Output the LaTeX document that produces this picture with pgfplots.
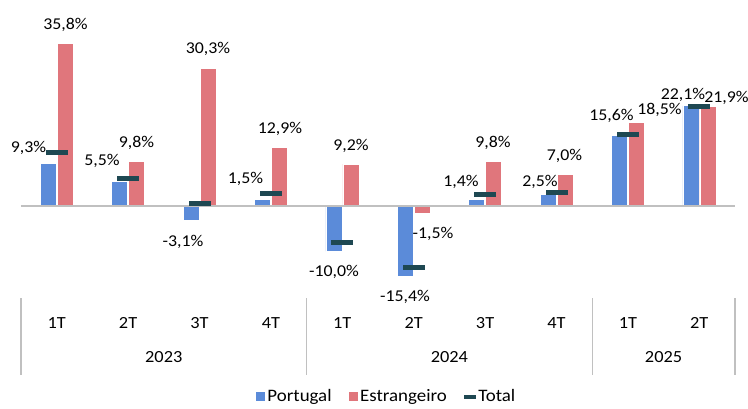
\documentclass[border=0pt]{standalone}
\usepackage{pgfplots}
\pgfplotsset{compat=1.18}
\usepackage{fontspec}
\setmainfont{Carlito}[FakeStretch=1.08]
\definecolor{ptc}{HTML}{5B8BD9}
\definecolor{esc}{HTML}{E0767C}
\definecolor{totc}{HTML}{1E4852}
\definecolor{axc}{HTML}{C0C0C0}
\pgfdeclareplotmark{tdash}{\pgfpathrectangle{\pgfpoint{-11pt}{-2.5pt}}{\pgfpoint{22pt}{5pt}}\pgfusepath{fill}}
\newcommand{\lbl}{\fontsize{16.5}{18}\selectfont}
\pgfplotstableread{
x p e t
0 9.3 35.8 11.7
1 5.5 9.8 6.0
2 -3.1 30.3 0.6
3 1.5 12.9 2.75
4 -10.0 9.2 -8.0
5 -15.4 -1.5 -13.5
6 1.4 9.8 2.5
7 2.5 7.0 3.0
8 15.6 18.5 15.8
9 22.1 21.9 22.0
}\datatab
\pgfplotstableread{
x y t
-0.395 12.9 9,3
0.634 9.9 5,5
1.769 -8.0 -3,1
2.644 5.9 1,5
3.884 -14.6 -10,0
4.878 -20.0 -15,4
5.662 5.4 1,4
6.769 5.4 2,5
7.770 19.8 15,6
8.772 24.4 22,1
0.123 39.8 35,8
1.118 13.8 9,8
2.119 34.6 30,3
3.127 17.0 12,9
4.122 13.3 9,2
5.270 -6.2 -1,5
6.111 13.9 9,8
7.112 11.0 7,0
8.443 21.1 18,5
9.381 23.7 21,9
}\labtab
\begin{document}
\begin{tikzpicture}[x=1pt,y=1pt]
\path[use as bounding box] (0,0) rectangle (748,408);
\begin{axis}[
  at={(21pt,110pt)}, anchor=south west,
  scale only axis, width=714pt, height=298pt,
  xmin=-0.5, xmax=9.5, ymin=-20.26, ymax=45.37,
  axis line style={draw=none},
  ytick=\empty,
  xtick={0,...,9},
  xticklabels={1T,2T,3T,4T,1T,2T,3T,4T,1T,2T},
  major tick length=0pt,
  xticklabel style={font=\fontsize{17}{18}\selectfont, anchor=center, yshift=-25pt},
  clip=false,
  legend columns=3,
  legend style={at={(0.512,-0.33)}, anchor=center, draw=none, fill=none,
    font=\fontsize{17.5}{19}\selectfont,
    nodes={inner sep=1.5pt},
    /tikz/every odd column/.append style={column sep=1pt},
    /tikz/every even column/.append style={column sep=16pt}},
]
\addplot[ybar, bar width=16pt, bar shift=-8.5pt, fill=ptc, draw=white, line width=0.6pt,
  legend image code/.code={\fill[ptc] (0pt,-4pt) rectangle (8pt,4pt);}]
  table[x=x, y=p] {\datatab};
\addlegendentry{Portugal}
\addplot[ybar, bar width=16pt, bar shift=8.5pt, fill=esc, draw=white, line width=0.6pt,
  legend image code/.code={\fill[esc] (0pt,-4pt) rectangle (8pt,4pt);}]
  table[x=x, y=e] {\datatab};
\addlegendentry{Estrangeiro}
\addplot[axc, line width=1.5pt, forget plot] coordinates {(-0.5,0) (9.5,0)};
\addplot[only marks, mark=tdash, color=totc,
  legend image code/.code={\fill[totc] (0pt,-1.5pt) rectangle (11pt,1.5pt);}]
  table[x=x, y=t] {\datatab};
\addlegendentry{Total}
\addplot[draw=none, forget plot, nodes near coords={\pgfplotspointmeta\%},
  point meta=explicit symbolic,
  nodes near coords style={anchor=center, font=\lbl, inner sep=0pt, text=black}]
  table[x=x, y=y, meta=t] {\labtab};
\foreach \xs in {-0.5,3.5,7.5,9.5} {
  \edef\tmp{\noexpand\draw[axc, line width=1.2pt] (axis cs:\xs,-20.26) -- ++(0pt,-77pt);}
  \tmp
}
\node[font=\fontsize{17}{18}\selectfont] at (axis cs:1.5,-20.26) [yshift=-59pt] {2023};
\node[font=\fontsize{17}{18}\selectfont] at (axis cs:5.5,-20.26) [yshift=-59pt] {2024};
\node[font=\fontsize{17}{18}\selectfont] at (axis cs:8.5,-20.26) [yshift=-59pt] {2025};
\end{axis}
\end{tikzpicture}
\end{document}
